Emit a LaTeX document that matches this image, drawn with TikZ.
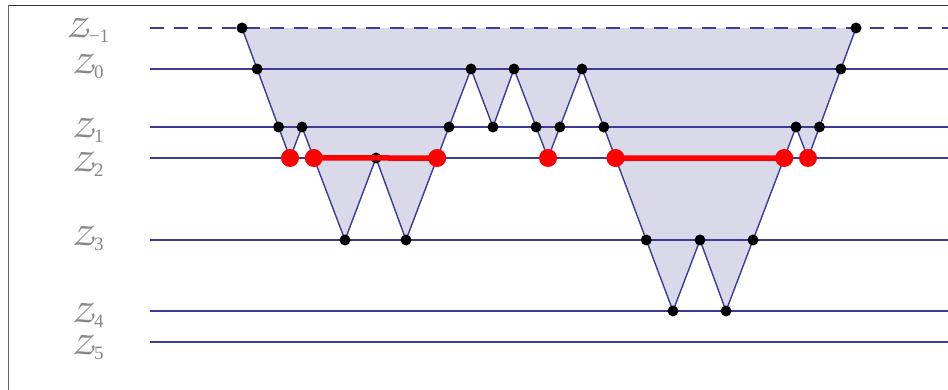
\documentclass[tikz,border=0pt]{standalone}
\usepackage{fontspec}
\newfontfamily\subf{Liberation Serif}
\usetikzlibrary{calc}
\definecolor{linec}{RGB}{60,60,150}
\definecolor{fillc}{RGB}{217,217,234}
\definecolor{labc}{RGB}{136,136,136}
\newcommand{\zcf}{\usefont{OT1}{pzc}{mb}{it}}
\newcommand{\zlab}[1]{{\fontsize{33}{36}\zcf Z}\kern1.5pt\raisebox{-5pt}{\subf\fontsize{19}{20}\selectfont #1}}
\begin{document}
\begin{tikzpicture}[x=1pt,y=-1pt,
  hline/.style={draw=linec,line width=1.4pt},
  zpath/.style={draw=linec,line width=1.4pt,line join=round},
  bdot/.style={circle,fill=black,inner sep=0pt,minimum size=11pt},
  rdot/.style={circle,fill=red,inner sep=0pt,minimum size=18pt},
  redseg/.style={draw=red,line width=5.5pt},
  lab/.style={text=labc,anchor=base,inner sep=0pt}]
\useasboundingbox (0,0) rectangle (948,390);
% frame
\draw[draw=black!60,line width=1.4pt] (8.5,391) -- (8.5,5.5);
\draw[draw=black!80,line width=1.4pt] (8.5,5.5) -- (949,5.5);
% turning points
\coordinate (P0) at (242,28);
\coordinate (V1) at (290,158);
\coordinate (T1) at (302,127);
\coordinate (V2) at (345,240);
\coordinate (T2) at (376,158);
\coordinate (V3) at (406,240);
\coordinate (T3) at (471,69);
\coordinate (V4) at (493,127);
\coordinate (T4) at (514,69);
\coordinate (V5) at (548,158);
\coordinate (T5) at (582,69);
\coordinate (V6) at (673,311);
\coordinate (T6) at (700,240);
\coordinate (V7) at (726,311);
\coordinate (T7) at (796,127);
\coordinate (V8) at (808,158);
\coordinate (PE) at (856,28);
% crossing points
\coordinate (a1) at ($(P0)!0.3154!(V1)$);
\coordinate (a2) at ($(P0)!0.7615!(V1)$);
\coordinate (b1) at ($(T1)!0.2743!(V2)$);
\coordinate (c1) at ($(V3)!0.4795!(T3)$);
\coordinate (c2) at ($(V3)!0.6608!(T3)$);
\coordinate (d1) at ($(T4)!0.6517!(V5)$);
\coordinate (e1) at ($(V5)!0.3483!(T5)$);
\coordinate (f1) at ($(T5)!0.2397!(V6)$);
\coordinate (f2) at ($(T5)!0.3678!(V6)$);
\coordinate (f3) at ($(T5)!0.7066!(V6)$);
\coordinate (g1) at ($(V7)!0.3859!(T7)$);
\coordinate (g2) at ($(V7)!0.8315!(T7)$);
\coordinate (h1) at ($(V8)!0.2385!(PE)$);
\coordinate (h2) at ($(V8)!0.6846!(PE)$);
% fill
\fill[fillc] (P0) -- (V1) -- (T1) -- (V2) -- (T2) -- (V3) -- (T3) -- (V4) -- (T4) -- (V5) -- (T5) -- (V6) -- (T6) -- (V7) -- (T7) -- (V8) -- (PE) -- cycle;
% level lines
\foreach \yy/\nm in {69/L0,127/L1,158/L2,240/L3,311/L4,342/L5}{
  \coordinate (\nm s) at (150,\yy);
  \coordinate (\nm e) at (948,\yy);
  \draw[hline] (\nm s) -- (\nm e);
}
\coordinate (LMs) at (150,28);
\coordinate (LMe) at (948,28);
\draw[hline,dash pattern=on 14pt off 10pt] (LMs) -- (LMe);
% labels
\node[lab] (zM) at (88,37.5) {\zlab{−1}};
\node[lab] (z0) at (88,74) {\zlab{0}};
\node[lab] (z1) at (88,138) {\zlab{1}};
\node[lab] (z2) at (88,171.5) {\zlab{2}};
\node[lab] (z3) at (88,246) {\zlab{3}};
\node[lab] (z4) at (88,322.5) {\zlab{4}};
\node[lab] (z5) at (88,354) {\zlab{5}};
% path
\draw[zpath] (P0) -- (V1) -- (T1) -- (V2) -- (T2) -- (V3) -- (T3) -- (V4) -- (T4) -- (V5) -- (T5) -- (V6) -- (T6) -- (V7) -- (T7) -- (V8) -- (PE);
% black dots
\foreach \p in {P0,a1,a2,T1,V2,T2,V3,c2,T3,V4,T4,d1,e1,T5,f1,f3,V6,T6,V7,g1,T7,h1,h2,PE}{
  \node[bdot] (n\p) at (\p) {};
}
% red segments and dots
\draw[redseg] (b1) -- (c1);
\draw[redseg] (f2) -- (g2);
\foreach \p in {V1,b1,c1,V5,f2,g2,V8}{
  \node[rdot] (r\p) at (\p) {};
}
\end{tikzpicture}
\end{document}
